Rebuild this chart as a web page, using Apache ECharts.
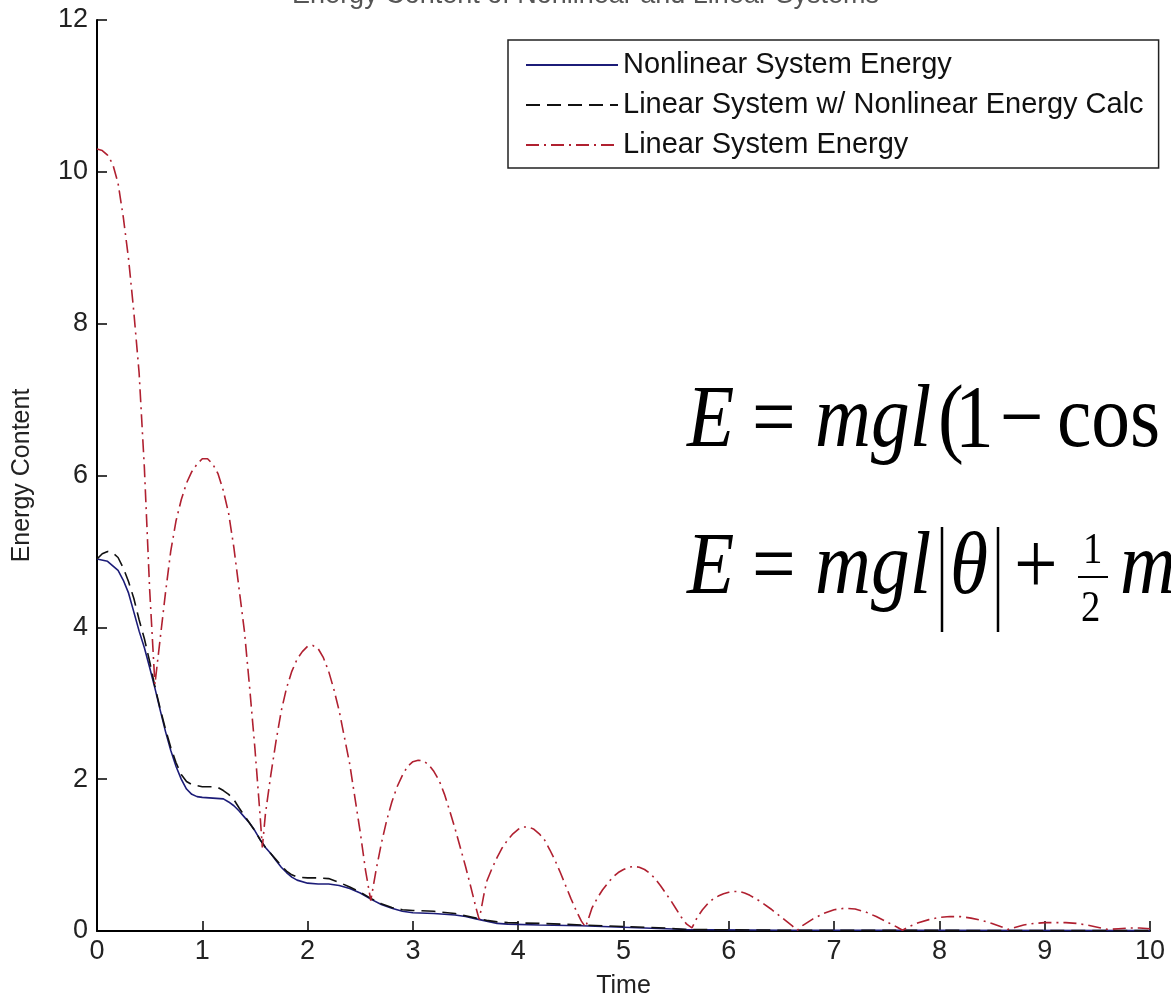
<!DOCTYPE html>
<html>
<head>
<meta charset="utf-8">
<script src="https://cdn.jsdelivr.net/npm/echarts@6/dist/echarts.min.js"></script>
<style>
    html, body {margin: 0; padding: 0; background: #fff;}
    #chart {width: 1171px; height: 1005px;}
</style>
</head>
<body>
<div id="chart"></div>
<script>
// 非线性系统能量
const nonlinearTime = [0, 0.1, 0.2, 0.25, 0.3, 0.35, 0.4, 0.45, 0.5, 0.55, 0.6, 0.65, 0.7, 0.75, 0.8, 0.85, 0.9, 0.95, 1.0, 1.1, 1.2, 1.25, 1.3, 1.35, 1.4, 1.45, 1.5, 1.55, 1.6, 1.65, 1.7, 1.75, 1.8, 1.85, 1.9, 2.0, 2.1, 2.2, 2.3, 2.4, 2.5, 2.6, 2.7, 2.8, 2.9, 3.0, 3.2, 3.4, 3.5, 3.6, 3.7, 3.8, 3.9, 4.2, 4.6, 5.0, 5.4, 5.6, 6.5, 7.5, 10];
const nonlinearEnergy = [4.9, 4.87, 4.75, 4.62, 4.45, 4.2, 3.95, 3.73, 3.47, 3.2, 2.91, 2.63, 2.38, 2.17, 2.0, 1.87, 1.8, 1.77, 1.76, 1.75, 1.74, 1.7, 1.65, 1.58, 1.5, 1.42, 1.32, 1.2, 1.1, 1.02, 0.93, 0.84, 0.77, 0.71, 0.67, 0.63, 0.62, 0.62, 0.6, 0.56, 0.5, 0.42, 0.35, 0.3, 0.26, 0.24, 0.23, 0.21, 0.19, 0.16, 0.13, 0.1, 0.09, 0.08, 0.07, 0.05, 0.03, 0.02, 0.01, 0.01, 0.005];

// 线性系统 + 非线性能量计算
const mixedTime = [0, 0.05, 0.1, 0.15, 0.2, 0.25, 0.3, 0.35, 0.4, 0.45, 0.5, 0.55, 0.6, 0.65, 0.7, 0.75, 0.8, 0.85, 0.9, 1.0, 1.1, 1.15, 1.2, 1.25, 1.3, 1.35, 1.4, 1.45, 1.5, 1.55, 1.6, 1.65, 1.7, 1.75, 1.8, 1.85, 1.9, 2.0, 2.1, 2.2, 2.3, 2.4, 2.5, 2.6, 2.7, 2.8, 2.9, 3.0, 3.2, 3.4, 3.5, 3.6, 3.7, 3.8, 3.9, 4.2, 4.6, 5.0, 5.4, 5.6, 6.5, 10];
const mixedEnergy = [4.9, 4.97, 5.0, 4.98, 4.92, 4.78, 4.6, 4.38, 4.1, 3.85, 3.55, 3.22, 2.93, 2.66, 2.42, 2.22, 2.06, 1.97, 1.93, 1.9, 1.9, 1.89, 1.85, 1.8, 1.73, 1.62, 1.52, 1.42, 1.32, 1.2, 1.1, 1.02, 0.94, 0.86, 0.79, 0.74, 0.71, 0.7, 0.7, 0.69, 0.64, 0.58, 0.51, 0.43, 0.36, 0.31, 0.28, 0.27, 0.26, 0.23, 0.2, 0.17, 0.14, 0.12, 0.11, 0.1, 0.08, 0.06, 0.04, 0.02, 0.01, 0.005];

// 线性系统能量
const linearTime = [0, 0.05, 0.1, 0.15, 0.2, 0.25, 0.3, 0.35, 0.4, 0.45, 0.5, 0.55, 0.6, 0.65, 0.7, 0.75, 0.8, 0.85, 0.9, 0.95, 1.0, 1.05, 1.1, 1.15, 1.2, 1.25, 1.3, 1.35, 1.4, 1.45, 1.5, 1.55, 1.57, 1.6, 1.65, 1.7, 1.75, 1.8, 1.85, 1.9, 1.95, 2.0, 2.05, 2.1, 2.15, 2.2, 2.25, 2.3, 2.35, 2.4, 2.45, 2.5, 2.55, 2.6, 2.65, 2.7, 2.75, 2.8, 2.85, 2.9, 2.95, 3.0, 3.05, 3.1, 3.15, 3.2, 3.25, 3.3, 3.35, 3.4, 3.45, 3.5, 3.55, 3.6, 3.63, 3.67, 3.7, 3.75, 3.8, 3.85, 3.9, 3.95, 4.0, 4.05, 4.1, 4.15, 4.2, 4.25, 4.3, 4.35, 4.4, 4.45, 4.5, 4.55, 4.6, 4.64, 4.7, 4.75, 4.8, 4.85, 4.9, 4.95, 5.0, 5.05, 5.1, 5.15, 5.2, 5.25, 5.3, 5.35, 5.4, 5.45, 5.5, 5.55, 5.6, 5.65, 5.7, 5.75, 5.8, 5.85, 5.9, 5.95, 6.0, 6.05, 6.1, 6.15, 6.2, 6.3, 6.4, 6.5, 6.6, 6.65, 6.7, 6.8, 6.9, 7.0, 7.1, 7.2, 7.3, 7.4, 7.5, 7.6, 7.65, 7.7, 7.8, 7.9, 8.0, 8.1, 8.2, 8.3, 8.4, 8.5, 8.6, 8.65, 8.7, 8.8, 8.9, 9.0, 9.1, 9.2, 9.3, 9.4, 9.5, 9.6, 9.7, 9.8, 9.9, 10.0];
const linearEnergy = [10.3, 10.28, 10.22, 10.1, 9.85, 9.4, 8.85, 8.15, 7.35, 6.1, 4.5, 3.25, 3.85, 4.45, 5.0, 5.4, 5.68, 5.9, 6.05, 6.15, 6.22, 6.22, 6.15, 6.02, 5.8, 5.5, 5.05, 4.5, 3.95, 3.2, 2.4, 1.5, 1.1, 1.55, 2.05, 2.5, 2.9, 3.2, 3.42, 3.58, 3.68, 3.75, 3.76, 3.72, 3.6, 3.42, 3.18, 2.9, 2.55, 2.2, 1.75, 1.3, 0.8, 0.4, 0.8, 1.15, 1.45, 1.7, 1.9, 2.05, 2.17, 2.23, 2.25, 2.24, 2.19, 2.1, 1.98, 1.8, 1.58, 1.35, 1.1, 0.85, 0.58, 0.3, 0.15, 0.45, 0.65, 0.82, 0.97, 1.1, 1.2, 1.28, 1.34, 1.37, 1.37, 1.34, 1.28, 1.2, 1.07, 0.93, 0.77, 0.6, 0.43, 0.27, 0.13, 0.05, 0.3, 0.43, 0.54, 0.63, 0.71, 0.77, 0.81, 0.84, 0.85, 0.84, 0.81, 0.76, 0.69, 0.6, 0.5, 0.4, 0.29, 0.18, 0.09, 0.04, 0.18, 0.28, 0.36, 0.42, 0.46, 0.49, 0.51, 0.52, 0.52, 0.5, 0.47, 0.39, 0.29, 0.18, 0.07, 0.01, 0.07, 0.16, 0.23, 0.28, 0.3, 0.29, 0.25, 0.19, 0.12, 0.05, 0.01, 0.05, 0.11, 0.15, 0.18, 0.19, 0.19, 0.17, 0.14, 0.1, 0.05, 0.02, 0.04, 0.08, 0.1, 0.11, 0.11, 0.11, 0.1, 0.08, 0.05, 0.02, 0.03, 0.04, 0.04, 0.03];

const seriesNames = ['Nonlinear System Energy', 'Linear System w/ Nonlinear Energy Calc', 'Linear System Energy'];
const titleText = 'Energy Content of Nonlinear and Linear Systems';

const pairs = (xs, ys) => xs.map((x, i) => [x, ys[i]]);

const sans = "'Liberation Sans', Arial, sans-serif";
const serif = "'Liberation Serif', 'Times New Roman', serif";

// 公式文字，y 为基线（按字体中线换算）
const mathText = (x, baseline, text, size, italic) => ({
    type: 'text',
    x: x,
    y: baseline - 0.3375 * size,
    scaleX: 0.88,
    style: {
        text: text,
        font: (italic ? 'italic ' : '') + size + 'px ' + serif,
        fill: '#000',
        verticalAlign: 'middle'
    }
});
const mathBar = (x1, y1, x2, y2, w) => ({
    type: 'line',
    shape: {x1: x1, y1: y1, x2: x2, y2: y2},
    style: {stroke: '#000', lineWidth: w}
});

const chart = echarts.init(document.getElementById('chart'));

const option = {
    backgroundColor: '#fff',
    animation: false,
    title: {
        text: titleText,
        left: 'center',
        top: -23,
        textStyle: {fontFamily: sans, fontSize: 27, fontWeight: 'normal', color: '#555'}
    },
    grid: {left: 97, right: 21, top: 20, bottom: 74, containLabel: false},
    legend: {
        data: seriesNames,
        orient: 'vertical',
        left: 508,
        top: 40,
        padding: [5, 15, 3, 17],
        itemGap: 0,
        itemWidth: 92,
        itemHeight: 14,
        borderColor: '#222',
        borderWidth: 1.5,
        backgroundColor: '#fff',
        borderRadius: 0,
        itemStyle: {opacity: 0},
        textStyle: {fontFamily: sans, fontSize: 29, color: '#111', lineHeight: 40}
    },
    xAxis: {
        type: 'value',
        min: 0, max: 10, interval: 1,
        name: 'Time',
        nameLocation: 'middle',
        nameGap: 43,
        nameTextStyle: {fontFamily: sans, fontSize: 25, color: '#222'},
        axisLine: {lineStyle: {color: '#000', width: 2}},
        axisTick: {inside: true, length: 10, lineStyle: {color: '#000', width: 1.5}},
        axisLabel: {fontFamily: sans, fontSize: 27, color: '#222', margin: 7},
        splitLine: {show: false}
    },
    yAxis: {
        type: 'value',
        min: 0, max: 12, interval: 2,
        name: 'Energy Content',
        nameLocation: 'middle',
        nameGap: 62,
        nameTextStyle: {fontFamily: sans, fontSize: 25, color: '#222'},
        axisLine: {show: true, lineStyle: {color: '#000', width: 2}},
        axisTick: {show: true, inside: true, length: 10, lineStyle: {color: '#000', width: 1.5}},
        axisLabel: {fontFamily: sans, fontSize: 27, color: '#222', margin: 9},
        splitLine: {show: false}
    },
    series: [
        {
            name: seriesNames[0],
            type: 'line',
            data: pairs(nonlinearTime, nonlinearEnergy),
            symbol: 'none',
            lineStyle: {color: '#1c1c78', width: 1.6, type: 'solid'},
            itemStyle: {color: '#1c1c78'},
            z: 2
        },
        {
            name: seriesNames[1],
            type: 'line',
            data: pairs(mixedTime, mixedEnergy),
            symbol: 'none',
            lineStyle: {color: '#111', width: 1.6, type: [14, 7]},
            itemStyle: {color: '#111'},
            z: 3
        },
        {
            name: seriesNames[2],
            type: 'line',
            data: pairs(linearTime, linearEnergy),
            symbol: 'none',
            lineStyle: {color: '#b02030', width: 1.6, type: [13, 5, 2, 5]},
            itemStyle: {color: '#b02030'},
            z: 4
        }
    ],
    graphic: [
        // E = mgl(1 - cos
        mathText(687, 453, 'E', 88, true),
        mathText(752, 453, '=', 88, false),
        mathText(815, 453, 'mgl', 88, true),
        mathText(938, 453, '(', 88, false),
        mathText(955, 453, '1', 88, false),
        mathText(1000, 453, '\u2212', 88, false),
        mathText(1057, 453, 'cos', 88, false),
        // E = mgl|θ| + ½ m
        mathText(687, 600, 'E', 88, true),
        mathText(752, 600, '=', 88, false),
        mathText(815, 600, 'mgl', 88, true),
        mathBar(942, 527, 942, 632, 2.5),
        mathText(950, 600, '\u03b8', 88, true),
        mathBar(998, 527, 998, 632, 2.5),
        mathText(1014, 600, '+', 88, false),
        mathText(1083, 566, '1', 44, false),
        mathBar(1078, 577, 1108, 577, 2),
        mathText(1081, 624, '2', 44, false),
        mathText(1120, 600, 'm', 88, true)
    ]
};

chart.setOption(option);
</script>
</body>
</html>
